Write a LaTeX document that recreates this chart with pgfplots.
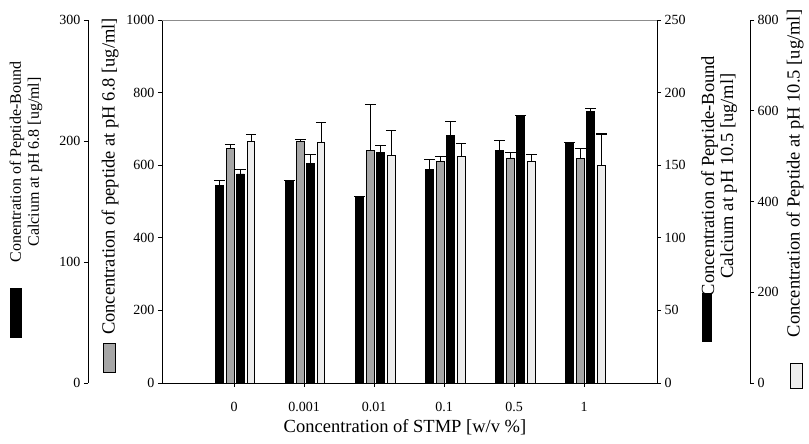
\documentclass[border=0pt]{standalone}
\usepackage{pgfplots}
\pgfplotsset{compat=1.18}
\usepackage{fontspec}
\setmainfont{Liberation Serif}

\pgfplotstableread{
x y e
0.790 163.5 3.9
1.790 167.7 0
2.790 154.5 0
3.790 176.4 8.1
4.790 192.3 8.1
5.790 198.9 0
}\tabA
\pgfplotstableread{
x y e
0.944 645 13
1.944 666 4
2.944 641 126
3.944 611 13
4.944 620 16
5.944 618 28
}\tabB
\pgfplotstableread{
x y e
1.092 144 3
2.092 151.5 5.8
3.092 159 4.5
4.092 170.3 9.8
5.092 183.5 0.8
6.092 187 2.3
}\tabC
\pgfplotstableread{
x y e
1.243 532.8 15.2
2.243 531.2 42.4
3.243 500.8 56
4.243 499.2 29.6
5.243 488.8 14.4
6.243 479.2 69.6
}\tabD

\pgfplotsset{
  base/.style={
    scale only axis, height=363pt,
    at={(0pt,0pt)}, anchor=south west,
    ybar, bar width=0.107, bar shift=0pt,
    tick align=outside, major tick length=4pt,
    axis line style={line width=0.9pt, black},
    tick style={line width=0.9pt, black},
    ticklabel style={font=\fontsize{14}{16}\selectfont},
    /pgf/number format/assume math mode=true,
    /pgf/number format/1000 sep={},
    clip=false,
  },
  bars/.style={draw=black, line width=0.8pt,
    error bars/y dir=plus, error bars/y explicit,
    error bars/error bar style={line width=0.7pt, black},
    error bars/error mark options={rotate=90, line width=1.1pt, mark size=5.3pt, black}},
}

\begin{document}
\begin{tikzpicture}
% inner left axis 0-1000 (peptide pH 6.8)
\begin{axis}[base, width=495pt, xmin=-0.03, xmax=7.04,
  ymin=0, ymax=1000, ytick={0,200,...,1000},
  axis x line*=bottom, axis y line*=left,
  xtick={1,2,3,4,5,6}, xticklabels={0,0.001,0.01,0.1,0.5,1},
  xticklabel style={yshift=-12pt}]
\addplot[bars, fill=black!35] table[x=x, y=y, y error=e]{\tabB};
\end{axis}
% outer left axis 0-300 (peptide-bound calcium pH 6.8)
\begin{axis}[base, at={(-74pt,0pt)}, width=569pt, xmin=-1.087, xmax=7.04,
  ymin=0, ymax=300, ytick={0,100,200,300},
  axis x line=none, xtick=\empty, axis y line*=left]
\addplot[bars, fill=black] table[x=x, y=y, y error=e]{\tabA};
\end{axis}
% inner right axis 0-250 (peptide-bound calcium pH 10.5)
\begin{axis}[base, width=495pt, xmin=-0.03, xmax=7.04,
  ymin=0, ymax=250, ytick={0,50,...,250},
  axis x line=none, xtick=\empty, axis y line*=right]
\addplot[bars, fill=black] table[x=x, y=y, y error=e]{\tabC};
\end{axis}
% outer right axis 0-800 (peptide pH 10.5)
\begin{axis}[base, width=588pt, xmin=-0.03, xmax=8.368,
  ymin=0, ymax=800, ytick={0,200,...,800},
  axis x line=none, xtick=\empty, axis y line*=right]
\addplot[bars, fill=black!7] table[x=x, y=y, y error=e]{\tabD};
\end{axis}

\draw[black!45, line width=0.6pt] (0pt,363pt) -- (495pt,363pt);

\begin{scope}[every node/.style={font=\fontsize{18.5}{19}\selectfont, inner sep=0pt}]
\node[rotate=90, align=center, font=\fontsize{16}{18}\selectfont] at (-136pt,221pt) {Conentration of Peptide-Bound\\Calcium at pH 6.8 [ug/ml]};
\node[rotate=90] at (-52pt,206.5pt) {Concentration of peptide at pH 6.8 [ug/ml]};
\node[rotate=90, align=center] at (557pt,207pt) {Concentration of Peptide-Bound\\Calcium at pH 10.5 [ug/ml]};
\node[rotate=90] at (633pt,209.5pt) {Concentration of Peptide at pH 10.5 [ug/ml]};
\node at (243pt,-44pt) {Concentration of STMP [w/v \%]};
\end{scope}
\fill[black] (-152pt,45pt) rectangle (-140pt,95pt);
\filldraw[fill=black!35, draw=black, line width=0.6pt] (-59pt,11pt) rectangle (-47pt,40pt);
\fill[black] (540pt,41pt) rectangle (550pt,90pt);
\filldraw[fill=black!7, draw=black, line width=0.6pt] (628pt,-5pt) rectangle (640pt,20pt);

\pgfresetboundingbox
\path (-162pt,-61pt) rectangle (647pt,383pt);
\end{tikzpicture}
\end{document}
